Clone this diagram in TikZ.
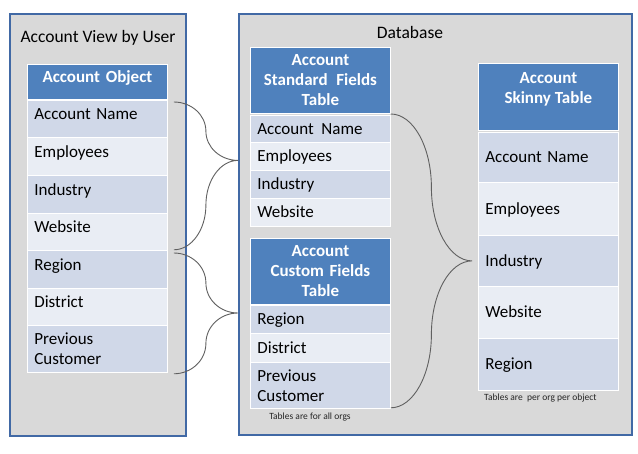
\documentclass[tikz,border=0pt]{standalone}
\usepackage{fontspec}
\setmainfont{Carlito}
\usetikzlibrary{calc}
\definecolor{panelfill}{HTML}{D9D9D9}
\definecolor{panelline}{RGB}{65,105,165}
\definecolor{hdrblue}{HTML}{4F81BD}
\definecolor{rowdark}{HTML}{D0D8E8}
\definecolor{rowlight}{HTML}{E9EDF4}
\definecolor{bracecol}{HTML}{606060}
\definecolor{captcol}{HTML}{262626}
% quarter-ellipse style curly brace: start #1, tip #2, end #3
\newcommand\mybrace[3]{%
  \draw[brace] let \p1=(#1), \p2=(#2), \p3=(#3),
      \n1={(\x1+\x2)/2}, \n2={(\y1+\y2)/2}, \n3={(\y3+\y2)/2} in
    (\p1) .. controls ({\x1+0.552*(\n1-\x1)},\y1) and (\n1,{\n2-0.552*(\n2-\y1)}) .. (\n1,\n2)
          .. controls (\n1,{\n2+0.552*(\y2-\n2)}) and ({\n1+0.448*(\x2-\n1)},\y2) .. (\p2)
          .. controls ({\n1+0.448*(\x2-\n1)},\y2) and (\n1,{\n3-0.552*(\n3-\y2)}) .. (\n1,\n3)
          .. controls (\n1,{\n3+0.552*(\y3-\n3)}) and ({\x3+0.552*(\n1-\x3)},\y3) .. (\p3);}
\begin{document}
\begin{tikzpicture}[x=1pt,y=-1pt,
  panel/.style={draw=panelline, line width=1.8pt, fill=panelfill, anchor=north west, inner sep=0pt},
  cell/.style={draw=white, line width=0.8pt, anchor=north west, minimum width=140pt,
    text width=126pt, inner xsep=7pt, inner ysep=0pt, align=left,
    font=\fontsize{17}{20}\selectfont},
  dk/.style={cell, fill=rowdark},
  lt/.style={cell, fill=rowlight},
  hdr/.style={cell, fill=hdrblue, text=white, align=center,
    font=\bfseries\fontsize{17}{20}\selectfont},
  ctr/.style={text height=11pt, text depth=0pt},
  topish/.style={text height=11pt, text depth=9pt},
  title/.style={font=\fontsize{17.5}{21}\selectfont, inner sep=0pt},
  caption/.style={font=\fontsize{9.5}{11}\selectfont, text=captcol, inner sep=0pt},
  brace/.style={draw=bracecol, line width=0.9pt}
]
\useasboundingbox (0,0) rectangle (638,454);
\fill[white] (0,0) rectangle (638,454);

% panels
\node[panel, minimum width=176pt, minimum height=422pt] (lp) at (9,13) {};
\node[panel, minimum width=393pt, minimum height=421pt] (rp) at (238,13) {};
\node[title] (ltitle) at (98,38) {Account View by User};
\node[title] (dbtitle) at (410,32) {Database};

% Account Object table
\node[hdr, topish, minimum height=35pt] (ao) at (27,64) {Account Object};
\node[dk, topish, minimum height=37pt] (ao1) at (27,100) {Account Name};
\node[lt, topish, minimum height=38pt] (ao2) at (27,137) {Employees};
\node[dk, topish, minimum height=38pt] (ao3) at (27,175) {Industry};
\node[lt, topish, minimum height=37pt] (ao4) at (27,213) {Website};
\node[dk, topish, minimum height=38pt] (ao5) at (27,250) {Region};
\node[lt, topish, minimum height=37pt] (ao6) at (27,288) {District};
\node[dk, minimum height=47pt] (ao7) at (27,325) {Previous\\Customer};

% Standard fields table
\node[hdr, minimum height=66pt] (st) at (250,47) {Account\\Standard\hspace{3pt} Fields\\Table};
\node[dk, ctr, minimum height=27pt] (st1) at (250,115) {Account\hspace{2pt} Name};
\node[lt, ctr, minimum height=28pt] (st2) at (250,142) {Employees};
\node[dk, ctr, minimum height=28pt] (st3) at (250,170) {Industry};
\node[lt, ctr, minimum height=28pt] (st4) at (250,198) {Website};

% Custom fields table
\node[hdr, minimum height=66pt] (cu) at (250,238) {Account\\Custom Fields\\Table};
\node[dk, ctr, minimum height=28pt] (cu1) at (250,305) {Region};
\node[lt, ctr, minimum height=29pt] (cu2) at (250,333) {District};
\node[dk, minimum height=46pt] (cu3) at (250,362) {Previous\\Customer};
\node[caption] (cap1) at (310,417) {Tables are for all orgs};

% Skinny table
\node[hdr, minimum height=67pt] (sk) at (478,63) {};
\node[anchor=north, align=center, text=white, font=\bfseries\fontsize{17}{20}\selectfont]
  (sktext) at ($(sk.north)+(0,5.5)$) {Account\\Skinny Table};
\node[dk, ctr, minimum height=50pt] (sk1) at (478,132) {Account Name};
\node[lt, ctr, minimum height=53pt] (sk2) at (478,182) {Employees};
\node[dk, ctr, minimum height=51pt] (sk3) at (478,235) {Industry};
\node[lt, ctr, minimum height=52pt] (sk4) at (478,286) {Website};
\node[dk, ctr, minimum height=52pt] (sk5) at (478,338) {Region};
\node[caption, anchor=west] (cap2) at (484,398) {Tables are\ \ per org per object};

% brace end points
\coordinate (b1s) at ($(ao1.north east)+(6,2)$);
\coordinate (b1e) at ($(ao4.south east)+(6,-1)$);
\coordinate (b1t) at ($(rp.west |- st2.center)+(0,4)$);
\coordinate (b2s) at ($(ao5.north east)+(6,3)$);
\coordinate (b2e) at ($(ao7.south east)+(6,1)$);
\coordinate (b2t) at ($(rp.west |- cu1.north)+(0,8)$);
\coordinate (b3s) at ($(st1.north east)+(0,-1)$);
\coordinate (b3e) at ($(cu3.south east)+(0,-1)$);
\coordinate (b3t) at ($(sk3.west)+(-6,0)$);

\mybrace{b1s}{b1t}{b1e}
\mybrace{b2s}{b2t}{b2e}
\mybrace{b3s}{b3t}{b3e}
\end{tikzpicture}
\end{document}
